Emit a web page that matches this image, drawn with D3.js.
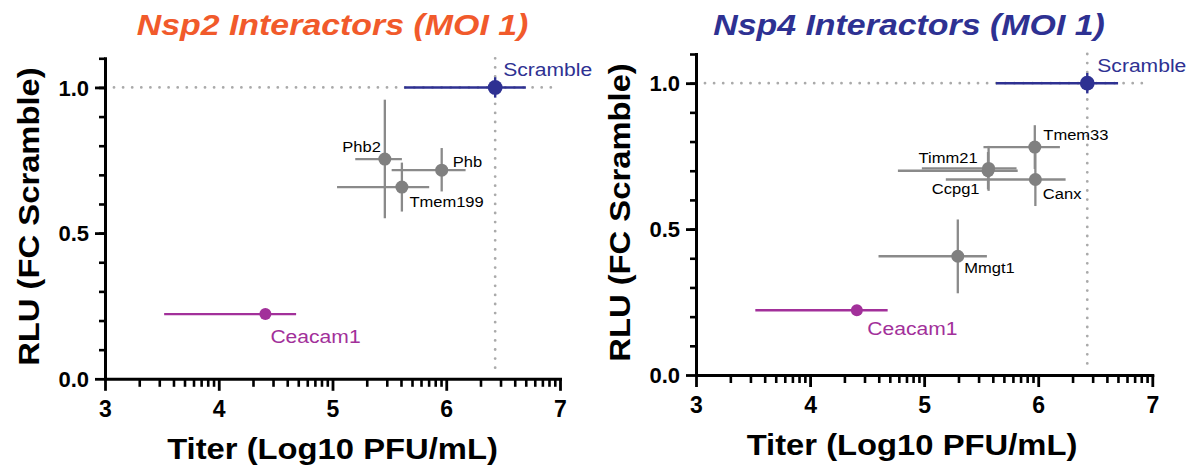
<!DOCTYPE html>
<html>
<head>
<meta charset="utf-8">
<script src="https://cdn.jsdelivr.net/npm/d3@7"></script>
<style>
  body { margin: 0; background: #fff; }
  text { font-family: "Liberation Sans", Arial, sans-serif; }
</style>
</head>
<body>
<script>

// ---- data ----
var X_TICKS = [3, 4, 5, 6, 7];
var Y_TICKS = [0, 0.5, 1.0];

// controls, shared by both panels
var scramble = {name: 'Scramble', titer: 6.43, titerLo: 5.63, titerHi: 6.70, rlu: 1.0, rluLo: 0.965, rluHi: 1.035};
var ceacam1  = {name: 'Ceacam1',  titer: 4.41, titerLo: 3.52, titerHi: 4.68, rlu: 0.222, rluLo: 0.222, rluHi: 0.222};

var nsp2Genes    = ['Phb2', 'Phb', 'Tmem199'];
var nsp2Titer    = [5.46, 5.96, 5.61];
var nsp2TiterLo  = [5.20, 5.52, 5.04];
var nsp2TiterHi  = [5.61, 6.17, 5.85];
var nsp2Rlu      = [0.754, 0.716, 0.658];
var nsp2RluLo    = [0.551, 0.643, 0.574];
var nsp2RluHi    = [0.958, 0.792, 0.742];

var nsp4Genes    = ['Tmem33', 'Timm21', 'Ccpg1', 'Canx', 'Mmgt1'];
var nsp4Titer    = [5.97, 5.565, 5.56, 5.975, 5.295];
var nsp4TiterLo  = [5.52, 4.98, 4.77, 5.19, 4.60];
var nsp4TiterHi  = [6.19, 5.81, 5.82, 6.24, 5.55];
var nsp4Rlu      = [0.781, 0.708, 0.700, 0.670, 0.407];
var nsp4RluLo    = [0.706, 0.631, 0.636, 0.579, 0.280];
var nsp4RluHi    = [0.856, 0.785, 0.764, 0.761, 0.533];

// ---- label placement (px offsets from the point, text anchor) ----
var LABEL_POS = {
    'Phb2':    [-4, -7.5, 'end'],
    'Phb':     [11, -3, 'start'],
    'Tmem199': [7.5, 19.5, 'start'],
    'Tmem33':  [8.5, -7, 'start'],
    'Timm21':  [-11, -5.5, 'end'],
    'Ccpg1':   [-8.5, 23.5, 'end'],
    'Canx':    [7.5, 19.5, 'start'],
    'Mmgt1':   [6.5, 16.5, 'start']
};

var COL_GRAY = '#808080';
var COL_BAR = '#8a8a8a';
var COL_SCR = '#2e3192';
var COL_CEA = '#a2309a';
var COL_DOT = '#aaaaaa';

var svg = d3.select('body').append('svg')
    .attr('width', 1201)
    .attr('height', 476);

function zip(names, t, tl, th, r, rl, rh) {
    return names.map(function(n, i) {
        return {name: n, titer: t[i], titerLo: tl[i], titerHi: th[i], rlu: r[i], rluLo: rl[i], rluHi: rh[i]};
    });
}

// text with a horizontal stretch (figure fonts run wide)
function label(parent, x, y, str, size, stretch, anchor, opts) {
    opts = opts || {};
    var tr = 'translate(' + x + ',' + y + ')';
    if (opts.rot) tr += ' rotate(' + opts.rot + ')';
    tr += ' scale(' + stretch + ',1)';
    return parent.append('text')
        .attr('transform', tr)
        .attr('text-anchor', anchor)
        .attr('font-size', size)
        .attr('font-weight', opts.weight || 'normal')
        .attr('font-style', opts.style || 'normal')
        .attr('fill', opts.fill || '#000')
        .text(str);
}

function styleAxis(a, w) {
    a.selectAll('.tick line').attr('stroke', '#000').attr('stroke-width', w);
    a.selectAll('.domain').attr('stroke', '#000').attr('stroke-width', 3).attr('stroke-linecap', 'square');
}

function errorBars(g, sx, sy, d, col, w) {
    g.append('line')
        .attr('x1', sx(d.titerLo)).attr('x2', sx(d.titerHi))
        .attr('y1', sy(d.rlu)).attr('y2', sy(d.rlu))
        .attr('stroke', col).attr('stroke-width', w);
    if (d.rluHi > d.rluLo) {
        g.append('line')
            .attr('x1', sx(d.titer)).attr('x2', sx(d.titer))
            .attr('y1', sy(d.rluLo)).attr('y2', sy(d.rluHi))
            .attr('stroke', col).attr('stroke-width', w);
    }
}

function panel(p) {
    var sx = d3.scaleLinear().domain([3, 7]).range(p.xr);
    var sy = d3.scaleLinear().domain([0, 1.1]).range(p.yr);
    var g = svg.append('g');

    // dotted reference lines at the Scramble control
    g.append('line')
        .attr('x1', sx(3) + 9).attr('x2', sx(6.97))
        .attr('y1', sy(1)).attr('y2', sy(1))
        .attr('stroke', COL_DOT).attr('stroke-width', 2.8)
        .attr('stroke-linecap', 'round').attr('stroke-dasharray', '0,9.1');
    g.append('line')
        .attr('x1', sx(scramble.titer)).attr('x2', sx(scramble.titer))
        .attr('y1', sy(1.1)).attr('y2', sy(0.02))
        .attr('stroke', COL_DOT).attr('stroke-width', 2.8)
        .attr('stroke-linecap', 'round').attr('stroke-dasharray', '0,9.1');

    // minor ticks: log spacing inside each decade on x, 0.1 steps on y
    var minorX = [];
    [3, 4, 5, 6].forEach(function(d) {
        for (var k = 2; k <= 9; k++) minorX.push(d + Math.log10(k));
    });
    var minorY = d3.range(1, 12).map(function(i) { return i / 10; });

    var gxm = g.append('g').attr('transform', 'translate(0,' + p.yr[0] + ')')
        .call(d3.axisBottom(sx).tickValues(minorX).tickSize(8).tickFormat(function() { return ''; }));
    gxm.select('.domain').remove();
    styleAxis(gxm, 2.6);

    var gym = g.append('g').attr('transform', 'translate(' + p.xr[0] + ',0)')
        .call(d3.axisLeft(sy).tickValues(minorY).tickSize(6).tickFormat(function() { return ''; }));
    gym.select('.domain').remove();
    styleAxis(gym, 2.6);

    var gx = g.append('g').attr('transform', 'translate(0,' + p.yr[0] + ')')
        .call(d3.axisBottom(sx).tickValues(X_TICKS).tickSize(12).tickSizeOuter(0).tickFormat(d3.format('d')));
    styleAxis(gx, 2.8);
    var gy = g.append('g').attr('transform', 'translate(' + p.xr[0] + ',0)')
        .call(d3.axisLeft(sy).tickValues(Y_TICKS).tickSize(10).tickSizeOuter(0).tickFormat(d3.format('.1f')));
    styleAxis(gy, 2.8);

    gx.selectAll('.tick text')
        .attr('y', 38).attr('dy', 0)
        .attr('font-size', 23).attr('font-weight', 'bold');
    gy.selectAll('.tick text')
        .attr('x', -16).attr('dy', '0.35em')
        .attr('font-size', 22).attr('font-weight', 'bold');

    // titles
    label(g, p.titleX, 35, p.title, 30, 1.13, 'middle', {weight: 'bold', style: 'italic', fill: p.titleColor});
    label(g, p.xTitleX, p.yr[0] + 80, 'Titer (Log10 PFU/mL)', 29, 1.13, 'middle', {weight: 'bold'});
    label(g, p.xr[0] - 66, (p.yr[0] + p.yr[1]) / 2 - 2, 'RLU (FC Scramble)', 29, 1.13, 'middle', {weight: 'bold', rot: -90});

    // interactor points with x and y error bars
    var pts = p.points;
    var eb = g.append('g');
    pts.forEach(function(d) { errorBars(eb, sx, sy, d, COL_BAR, 2.3); });
    g.selectAll('circle.gene').data(pts).enter().append('circle')
        .attr('class', 'gene')
        .attr('cx', function(d) { return sx(d.titer); })
        .attr('cy', function(d) { return sy(d.rlu); })
        .attr('r', 6.5)
        .attr('fill', COL_GRAY);
    pts.forEach(function(d) {
        var lp = LABEL_POS[d.name];
        label(g, sx(d.titer) + lp[0], sy(d.rlu) + lp[1], d.name, 14.5, 1.14, lp[2]);
    });

    // controls
    [[ceacam1, COL_CEA, 6, p.ceaOff], [scramble, COL_SCR, 7.4, p.scrOff]].forEach(function(c) {
        var d = c[0];
        errorBars(g, sx, sy, d, c[1], 2.4);
        g.append('circle')
            .attr('cx', sx(d.titer)).attr('cy', sy(d.rlu))
            .attr('r', c[2]).attr('fill', c[1]);
        label(g, sx(d.titer) + c[3][0], sy(d.rlu) + c[3][1], d.name, 18.5, 1.14, 'start', {fill: c[1]});
    });
}

panel({
    xr: [105, 560], yr: [378.8, 58.3],
    title: 'Nsp2 Interactors (MOI 1)', titleColor: '#f15a2b', titleX: 332.5, xTitleX: 332.5,
    points: zip(nsp2Genes, nsp2Titer, nsp2TiterLo, nsp2TiterHi, nsp2Rlu, nsp2RluLo, nsp2RluHi),
    scrOff: [8, -11.5], ceaOff: [5, 28.5]
});

panel({
    xr: [696, 1152.3], yr: [375, 54],
    title: 'Nsp4 Interactors (MOI 1)', titleColor: COL_SCR, titleX: 909, xTitleX: 912,
    points: zip(nsp4Genes, nsp4Titer, nsp4TiterLo, nsp4TiterHi, nsp4Rlu, nsp4RluLo, nsp4RluHi),
    scrOff: [10, -11], ceaOff: [10.5, 24.5]
});

</script>
</body>
</html>
